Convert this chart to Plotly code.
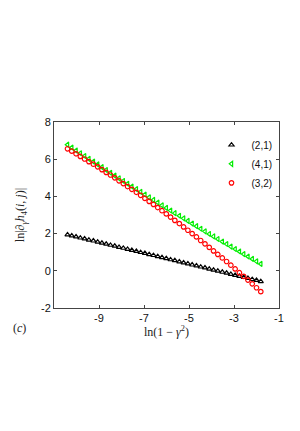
import plotly.graph_objects as go

# x = ln(1 - gamma^2)
x_vals = [-10.40, -10.21, -10.02, -9.83, -9.64, -9.45, -9.25, -9.06, -8.87, -8.68,
          -8.49, -8.30, -8.11, -7.92, -7.73, -7.54, -7.34, -7.15, -6.96, -6.77,
          -6.58, -6.39, -6.20, -6.01, -5.82, -5.63, -5.43, -5.24, -5.05, -4.86,
          -4.67, -4.48, -4.29, -4.10, -3.91, -3.72, -3.52, -3.33, -3.14, -2.95,
          -2.76, -2.57, -2.38, -2.19, -2.00, -1.81]

y_21 = [1.94, 1.88, 1.83, 1.77, 1.72, 1.66, 1.61, 1.55, 1.49, 1.44,
        1.38, 1.33, 1.27, 1.22, 1.16, 1.10, 1.05, 0.99, 0.94, 0.88,
        0.83, 0.77, 0.71, 0.66, 0.60, 0.55, 0.49, 0.43, 0.38, 0.32,
        0.27, 0.21, 0.16, 0.10, 0.04, -0.01, -0.07, -0.12, -0.18, -0.24,
        -0.29, -0.35, -0.40, -0.46, -0.51, -0.57]

y_41 = [6.78, 6.63, 6.47, 6.32, 6.17, 6.02, 5.87, 5.72, 5.57, 5.42,
        5.27, 5.12, 4.97, 4.83, 4.68, 4.53, 4.39, 4.24, 4.10, 3.95,
        3.81, 3.67, 3.52, 3.38, 3.24, 3.10, 2.96, 2.82, 2.68, 2.54,
        2.40, 2.26, 2.12, 1.98, 1.85, 1.71, 1.57, 1.44, 1.30, 1.17,
        1.04, 0.90, 0.77, 0.64, 0.51, 0.37]

y_32 = [6.56, 6.43, 6.29, 6.15, 6.01, 5.87, 5.73, 5.59, 5.44, 5.29,
        5.15, 5.00, 4.84, 4.69, 4.53, 4.38, 4.22, 4.06, 3.89, 3.73,
        3.57, 3.40, 3.23, 3.06, 2.89, 2.71, 2.54, 2.36, 2.18, 2.00,
        1.82, 1.63, 1.45, 1.26, 1.07, 0.88, 0.69, 0.50, 0.30, 0.10,
        -0.10, -0.30, -0.50, -0.70, -0.91, -1.12]

series_names = ["(2,1)", "(4,1)", "(3,2)"]
series_y = [y_21, y_41, y_32]
series_colors = ["#000000", "#00ee00", "#ff0000"]
series_symbols = ["triangle-up-open", "triangle-left-open", "circle-open"]

x_ticks = [-9, -7, -5, -3, -1]
y_ticks = [-2, 0, 2, 4, 6, 8]

fig = go.Figure()
for name, ys, col, sym in zip(series_names, series_y, series_colors, series_symbols):
    fig.add_trace(go.Scatter(
        x=x_vals, y=ys, mode="markers", name=name,
        marker=dict(symbol=sym, size=4.5, color=col, line=dict(color=col, width=1.2)),
    ))

axis_common = dict(
    showgrid=False, zeroline=False, showline=True, linecolor="#444444", linewidth=1,
    mirror="ticks", ticks="inside", ticklen=3, tickcolor="#444444",
    tickfont=dict(family="Liberation Sans, Arial, sans-serif", size=11, color="#111111"),
)

fig.update_xaxes(
    range=[-11, -1], tickvals=x_ticks, ticktext=[str(v) for v in x_ticks],
    title=dict(text="ln(1 − <i>γ</i><sup>2</sup>)", standoff=0,
               font=dict(family="Liberation Serif, DejaVu Serif, serif", size=12, color="#222222")),
    **axis_common,
)
fig.update_yaxes(
    range=[-2, 8], tickvals=y_ticks, ticktext=[str(v) for v in y_ticks],
    title=dict(text="ln|∂<sub><i>γ</i></sub><i>h</i><sub>4</sub>(<i>i</i>, <i>j</i>)|", standoff=13,
               font=dict(family="Liberation Serif, DejaVu Serif, serif", size=12, color="#222222")),
    **axis_common,
)

fig.add_annotation(
    text="(<i>c</i>)", xref="paper", yref="paper", x=-0.155, y=-0.11,
    xanchor="center", yanchor="middle", showarrow=False,
    font=dict(family="Liberation Serif, DejaVu Serif, serif", size=12, color="#222222"),
)

fig.update_layout(
    width=292, height=423,
    margin=dict(l=34, r=21, t=114, b=123),
    paper_bgcolor="white", plot_bgcolor="white",
    showlegend=True,
    legend=dict(x=0.70, y=0.955, xanchor="left", yanchor="top",
                bgcolor="rgba(0,0,0,0)", borderwidth=0, tracegroupgap=0,
                itemwidth=30,
                font=dict(family="Liberation Sans, Arial, sans-serif", size=10, color="#111111")),
)

fig.write_html("out.html")
